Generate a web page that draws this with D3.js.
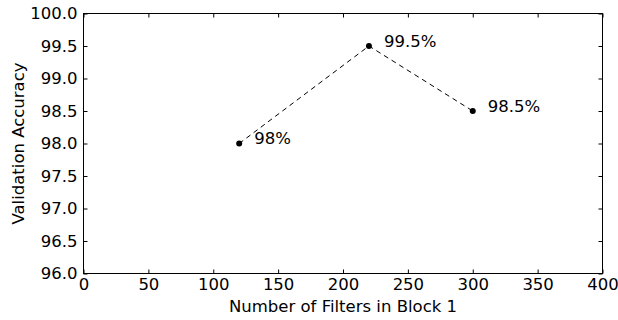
<!DOCTYPE html>
<html><head><meta charset="utf-8">
<script src="https://cdn.jsdelivr.net/npm/d3@7/dist/d3.min.js"></script>
<style>
html,body{margin:0;padding:0;background:#fff;}
svg text{font-family:"DejaVu Sans",sans-serif;fill:#000;}
</style></head>
<body><svg id="c" width="618" height="320"></svg>
<script>
const filters = [120, 220, 300];
const accuracy = [98.0, 99.5, 98.5];
const pointLabels = ["98%", "99.5%", "98.5%"];
const xTicks = [0, 50, 100, 150, 200, 250, 300, 350, 400];
const yTicks = [96.0, 96.5, 97.0, 97.5, 98.0, 98.5, 99.0, 99.5, 100.0];
const xLabel = "Number of Filters in Block 1";
const yLabel = "Validation Accuracy";

const svg = d3.select("#c");
const L = 83.5, R = 602.5, T = 13.5, B = 273.5;
const fs = 16.5;
const x = d3.scaleLinear().domain([0, 400]).range([L, R]);
const y = d3.scaleLinear().domain([96, 100]).range([B, T]);

const tl = 4;
svg.append("g").attr("transform", `translate(0,${B})`)
  .call(d3.axisBottom(x).tickValues(xTicks).tickSizeInner(-tl).tickSizeOuter(0).tickPadding(5).tickFormat(d3.format("d")))
  .call(g => { g.select(".domain").remove(); g.selectAll("text").attr("font-size", fs).attr("font-family","DejaVu Sans").attr("fill","#000"); });
svg.append("g").attr("transform", `translate(0,${T})`)
  .call(d3.axisTop(x).tickValues(xTicks).tickSizeInner(-tl).tickSizeOuter(0).tickFormat(""))
  .call(g => g.select(".domain").remove());
svg.append("g").attr("transform", `translate(${L},0)`)
  .call(d3.axisLeft(y).tickValues(yTicks).tickSizeInner(-tl).tickSizeOuter(0).tickPadding(6).tickFormat(d3.format(".1f")))
  .call(g => { g.select(".domain").remove(); g.selectAll("text").attr("font-size", fs).attr("font-family","DejaVu Sans").attr("fill","#000"); });
svg.append("g").attr("transform", `translate(${R},0)`)
  .call(d3.axisRight(y).tickValues(yTicks).tickSizeInner(-tl).tickSizeOuter(0).tickFormat(""))
  .call(g => g.select(".domain").remove());

svg.append("rect").attr("x", L).attr("y", T).attr("width", R - L).attr("height", B - T)
  .attr("fill", "none").attr("stroke", "#000").attr("stroke-width", 1);

const data = filters.map((f, i) => ({f, a: accuracy[i], t: pointLabels[i]}));
svg.append("path").datum(data)
  .attr("d", d3.line().x(d => x(d.f)).y(d => y(d.a)))
  .attr("fill", "none").attr("stroke", "#000").attr("stroke-width", 1).attr("stroke-dasharray", "5,4");
svg.selectAll("circle.p").data(data).join("circle")
  .attr("cx", d => x(d.f)).attr("cy", d => y(d.a)).attr("r", 3).attr("fill", "#000");
svg.selectAll("text.lab").data(data).join("text")
  .attr("x", d => x(d.f) + 15).attr("y", d => y(d.a) + 0.5)
  .attr("font-size", fs).text(d => d.t);

svg.append("text").attr("x", (L + R) / 2).attr("y", 312).attr("text-anchor", "middle")
  .attr("font-size", fs).text(xLabel);
svg.append("text").attr("transform", `translate(24,${(T + B) / 2}) rotate(-90)`).attr("text-anchor", "middle")
  .attr("font-size", fs).text(yLabel);
</script></body></html>
